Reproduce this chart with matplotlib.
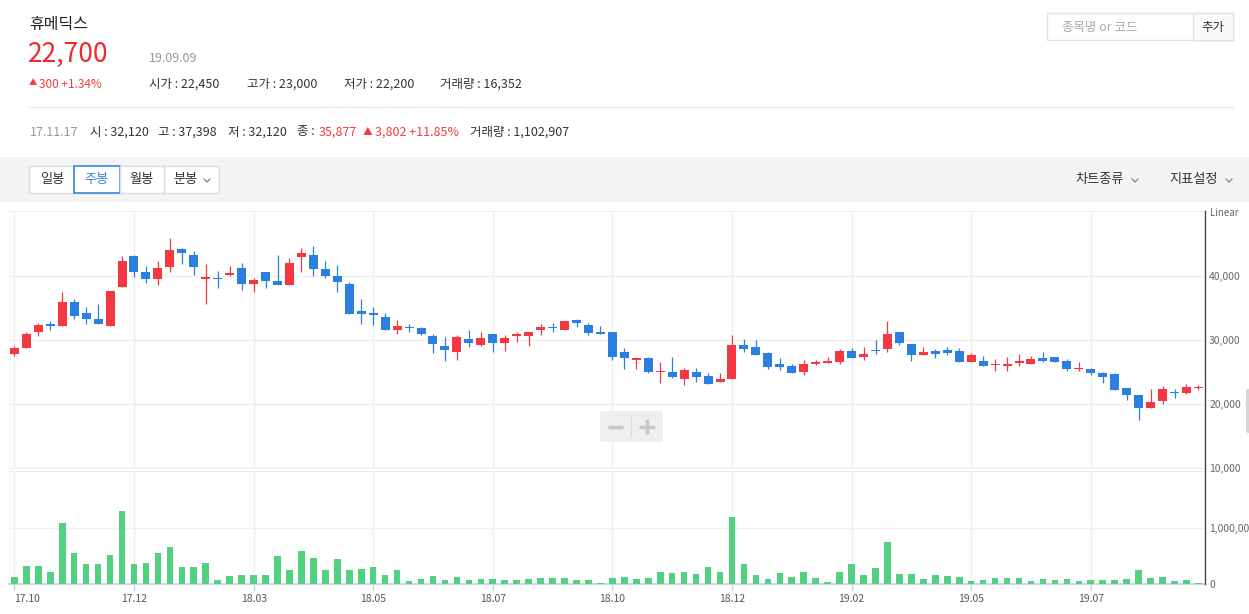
import numpy as np
import matplotlib
matplotlib.use("Agg")
import matplotlib.pyplot as plt
from matplotlib.patches import Rectangle, FancyBboxPatch

plt.rcParams['font.family'] = ['Noto Sans CJK KR', 'DejaVu Sans']

# weekly candles, 17.10 ~ 19.09.09
opens = [27780, 28710, 31190, 32530, 32120, 35950, 34240, 33310, 32120, 38170,
         43080, 40600, 39410, 41270, 44170, 43240, 39410, 39670, 40030, 41220,
         38630, 40600, 39200, 38480, 42820, 43240, 41060, 39980, 38740, 34550,
         34240, 33620, 31500, 32070, 31910, 30520, 28970, 28090, 30050, 29170,
         30830, 29480, 30570, 30570, 31500, 32070, 31500, 33150, 32380, 30980,
         31140, 28040, 26850, 27160, 24990, 24930, 23900, 24930, 24310, 23430,
         23900, 29120, 28810, 27880, 26170, 25860, 24990, 26230, 26330, 26540,
         28190, 27310, 28400, 28550, 31140, 29280, 27620, 28190, 28350, 28190,
         26540, 26640, 26020, 25920, 26380, 26230, 27100, 27260, 26640, 25450,
         25400, 24780, 24620, 22450, 21370, 19400, 20490, 21830, 21680, 22450]
highs = [28970, 31140, 32690, 33000, 37398, 36410, 35170, 35640, 37650, 43080,
         43240, 41530, 42300, 45870, 44320, 43860, 41840, 40750, 41530, 41990,
         39670, 40600, 43240, 42770, 44320, 44630, 42300, 41680, 39050, 36410,
         35170, 34240, 33150, 32530, 32070, 30980, 30360, 30670, 31450, 31140,
         30830, 30670, 31140, 31140, 32530, 32690, 33000, 33310, 32690, 32120,
         31140, 28660, 27310, 27310, 26480, 27310, 25550, 25550, 24780, 24780,
         30670, 30050, 29900, 28040, 27100, 26170, 26800, 26800, 27260, 28500,
         28660, 28810, 29900, 33000, 31140, 29280, 28810, 28500, 28810, 28660,
         27880, 27420, 26950, 27260, 27720, 27420, 28040, 27260, 26950, 26480,
         25550, 24930, 24780, 22450, 21370, 22300, 22760, 22300, 23070, 23000]
lows = [27470, 28710, 30520, 31500, 32120, 33310, 32430, 32430, 32120, 38170,
        39720, 38890, 38480, 40500, 41740, 40030, 35530, 38010, 39880, 37700,
        37390, 38010, 38480, 38480, 40500, 39880, 39570, 37390, 33980, 32430,
        32280, 31500, 30880, 31190, 30720, 27930, 26690, 26850, 28860, 29020,
        28090, 28240, 29640, 29020, 30720, 31190, 31500, 31970, 30720, 30930,
        26850, 25450, 25450, 24830, 23280, 24060, 22970, 23430, 23120, 23430,
        23900, 28090, 27620, 25450, 25240, 24830, 24520, 26070, 26330, 26230,
        27160, 26850, 27780, 28090, 29170, 26690, 27620, 27160, 27620, 26540,
        26540, 25920, 25140, 25140, 25920, 26230, 26540, 26540, 25140, 25140,
        24520, 23280, 22190, 20640, 17540, 19400, 20020, 20950, 21570, 22200]
closes = [28660, 30830, 32380, 32120, 35877, 33670, 33200, 32430, 37650, 42300,
          40500, 39410, 41220, 44010, 43440, 41270, 39820, 39410, 40440, 38630,
          39310, 39100, 38480, 41990, 43550, 40960, 39880, 38940, 33980, 33980,
          33830, 31500, 32220, 31810, 30880, 29330, 28400, 30360, 29480, 30210,
          29480, 30210, 30980, 31140, 32070, 31810, 33000, 32590, 31030, 30930,
          27310, 27160, 27160, 24990, 25190, 24210, 25240, 24210, 23120, 23850,
          29120, 28550, 27620, 25760, 25760, 24830, 26170, 26480, 26640, 28190,
          27160, 27720, 28240, 30980, 29480, 27620, 28040, 27780, 27930, 26540,
          27570, 25920, 26170, 26170, 26640, 26950, 26690, 26540, 25450, 25600,
          24830, 24210, 22190, 21420, 19400, 20280, 22300, 21730, 22610, 22700]
volumes = [126000, 323000, 323000, 216000, 1102907, 557000, 359000, 359000, 521000, 1311000,
           359000, 377000, 557000, 665000, 305000, 305000, 377000, 72000, 144000, 162000,
           162000, 162000, 503000, 251000, 593000, 467000, 251000, 449000, 251000, 269000,
           305000, 162000, 251000, 54000, 90000, 144000, 72000, 126000, 72000, 90000,
           90000, 72000, 72000, 90000, 108000, 108000, 108000, 72000, 72000, 18000,
           108000, 126000, 90000, 108000, 216000, 198000, 216000, 180000, 305000, 216000,
           1204000, 359000, 162000, 90000, 198000, 126000, 216000, 108000, 36000, 216000,
           359000, 162000, 287000, 754000, 180000, 180000, 90000, 162000, 144000, 126000,
           54000, 72000, 108000, 108000, 108000, 54000, 90000, 72000, 90000, 54000,
           72000, 72000, 72000, 90000, 251000, 108000, 126000, 54000, 72000, 16352]

tick_pos = [0, 10, 20, 30, 40, 50, 60, 70, 80, 90]
tick_labels = ['17.10', '17.12', '18.03', '18.05', '18.07', '18.10', '18.12', '19.02', '19.05', '19.07']
price_ticks = [10000, 20000, 30000, 40000]
vol_ticks = [0, 1000000]

RED = '#f43842'
BLUE = '#2a7fe1'
GREEN = '#52d180'
GRID = '#efefef'
TXT_RED = '#f23c3c'

W, H = 1249, 614
fig = plt.figure(figsize=(W / 100, H / 100), dpi=100)


def box(x0, y0, x1, y1):
    return [x0 / W, 1 - y1 / H, (x1 - x0) / W, (y1 - y0) / H]


# header / toolbar drawn in pixel coordinates
bg = fig.add_axes([0, 0, 1, 1])
bg.set_xlim(0, W)
bg.set_ylim(H, 0)
bg.axis('off')

bg.text(29, 25, '휴메딕스', fontsize=11.5, color='#222', va='center')
bg.text(28, 54, '22,700', fontsize=19, color='#f0282d', va='center')
bg.text(149, 58, '19.09.09', fontsize=9, color='#999', va='center')
bg.text(29, 83, '▲', fontsize=6, color=TXT_RED, va='center')
bg.text(39, 84, '300 +1.34%', fontsize=8.5, color=TXT_RED, va='center')
for xx, s in [(149, '시가 : 22,450'), (247, '고가 : 23,000'), (344, '저가 : 22,200'), (440, '거래량 : 16,352')]:
    bg.text(xx, 84, s, fontsize=9, color='#333', va='center')
bg.plot([29, 1233], [107, 107], color='#e6e6e6', lw=1)

bg.text(30, 132, '17.11.17', fontsize=9, color='#999', va='center')
for xx, s, c in [(90, '시 : 32,120', '#333'), (158, '고 : 37,398', '#333'), (228, '저 : 32,120', '#333'),
                 (297, '종 : ', '#333'), (319, '35,877', TXT_RED), (375, '3,802 +11.85%', TXT_RED),
                 (470, '거래량 : 1,102,907', '#333')]:
    bg.text(xx, 132, s, fontsize=9, color=c, va='center')
bg.text(363, 131, '▲', fontsize=7, color=TXT_RED, va='center')

# search box
bg.add_patch(Rectangle((1047, 13), 186, 27, fc='white', ec='#e2e2e2', lw=1))
bg.add_patch(Rectangle((1193, 13), 40, 27, fc='#fafafa', ec='#e2e2e2', lw=1))
bg.text(1062, 27, '종목명 or 코드', fontsize=9, color='#aaa', va='center')
bg.text(1213, 27, '추가', fontsize=9, color='#333', va='center', ha='center')

# toolbar band
bg.add_patch(Rectangle((0, 157), W, 45, fc='#f4f4f4', ec='none'))
bg.add_patch(Rectangle((29, 166), 190, 27, fc='white', ec='#dcdcdc', lw=1))
for xx in [120, 164]:
    bg.plot([xx, xx], [166, 193], color='#dcdcdc', lw=1)
bg.add_patch(Rectangle((74, 166), 46, 27, fc='white', ec='#3d86e6', lw=1.2))
bg.text(52, 180, '일봉', fontsize=9.5, color='#333', va='center', ha='center')
bg.text(97, 180, '주봉', fontsize=9.5, color='#3d82e0', va='center', ha='center')
bg.text(142, 180, '월봉', fontsize=9.5, color='#333', va='center', ha='center')
bg.text(186, 180, '분봉', fontsize=9.5, color='#333', va='center', ha='center')
bg.text(1075, 180, '차트종류', fontsize=9.5, color='#333', va='center')
bg.text(1169, 180, '지표설정', fontsize=9.5, color='#333', va='center')
for cx in [207, 1135, 1229]:
    bg.plot([cx - 3, cx, cx + 3], [179, 182, 179], color='#777', lw=0.8)

# price panel
x = np.arange(len(opens))
o = np.array(opens)
c = np.array(closes)
up = c >= o
colors = np.where(up, RED, BLUE)

ax = fig.add_axes(box(9, 211.3, 1205, 468.3))
ax.set_xlim(-0.45, len(x) - 0.45)
ax.set_ylim(10000, 50000)
ax.vlines(x, lows, highs, colors=colors, lw=0.9, zorder=3)
body_low = np.minimum(o, c)
body_h = np.maximum(np.abs(c - o), 220)
ax.bar(x, body_h, bottom=body_low, width=0.75, color=colors, lw=0, zorder=4)
ax.set_xticks(tick_pos)
ax.set_yticks(price_ticks)
ax.set_yticklabels([f'{v:,}' for v in price_ticks])
ax.yaxis.tick_right()
ax.tick_params(axis='x', length=0, labelbottom=False)
ax.tick_params(axis='y', length=0, pad=3, labelsize=7.5, labelcolor='#666')
ax.grid(color=GRID, lw=1)
ax.set_axisbelow(True)
for s in ['left', 'right']:
    ax.spines[s].set_visible(False)
for s in ['top', 'bottom']:
    ax.spines[s].set_color('#eeeeee')

# volume panel
axv = fig.add_axes(box(9, 470.7, 1205, 584))
axv.set_xlim(-0.45, len(x) - 0.45)
axv.set_ylim(0, 2.034e6)
axv.bar(x, volumes, width=0.55, color=GREEN, lw=0, zorder=3)
axv.set_xticks(tick_pos)
axv.set_xticklabels(tick_labels)
axv.get_xticklabels()[0].set_ha('left')
axv.set_yticks(vol_ticks)
axv.set_yticklabels([f'{v:,}' for v in vol_ticks])
axv.yaxis.tick_right()
axv.tick_params(axis='x', length=4, color='#c5d0e4', width=1, pad=3, labelsize=7.5, labelcolor='#555')
axv.tick_params(axis='y', length=0, pad=3, labelsize=7.5, labelcolor='#666')
axv.grid(color=GRID, lw=1)
axv.set_axisbelow(True)
for s in ['left', 'right']:
    axv.spines[s].set_visible(False)
axv.spines['top'].set_color('#eeeeee')
axv.spines['bottom'].set_color('#c5d0e4')
axv.spines['bottom'].set_linewidth(1.2)

# overlay: right axis line, zoom buttons, scroll handle
ov = fig.add_axes([0, 0, 1, 1], zorder=10)
ov.set_xlim(0, W)
ov.set_ylim(H, 0)
ov.axis('off')
ov.patch.set_alpha(0)
ov.plot([1205, 1205], [211, 584], color='#444', lw=1)
ov.text(1210, 213, 'Linear', fontsize=7, color='#666', va='center')
ov.add_patch(FancyBboxPatch((600, 411), 63, 31, boxstyle='round,pad=0,rounding_size=3',
                            fc='#efefef', ec='none'))
ov.plot([608, 623], [426.5, 426.5], color='#c9c9c9', lw=2.5, solid_capstyle='butt')
ov.plot([639, 655], [426.5, 426.5], color='#c9c9c9', lw=2.5, solid_capstyle='butt')
ov.plot([647, 647], [419, 434], color='#c9c9c9', lw=2.5, solid_capstyle='butt')
ov.plot([631.5, 631.5], [416, 437], color='#dadada', lw=0.8)
ov.add_patch(FancyBboxPatch((1246, 389), 6, 44, boxstyle='round,pad=0,rounding_size=2',
                            fc='#d6d6d6', ec='none'))

fig.savefig('out.png', dpi=100)
